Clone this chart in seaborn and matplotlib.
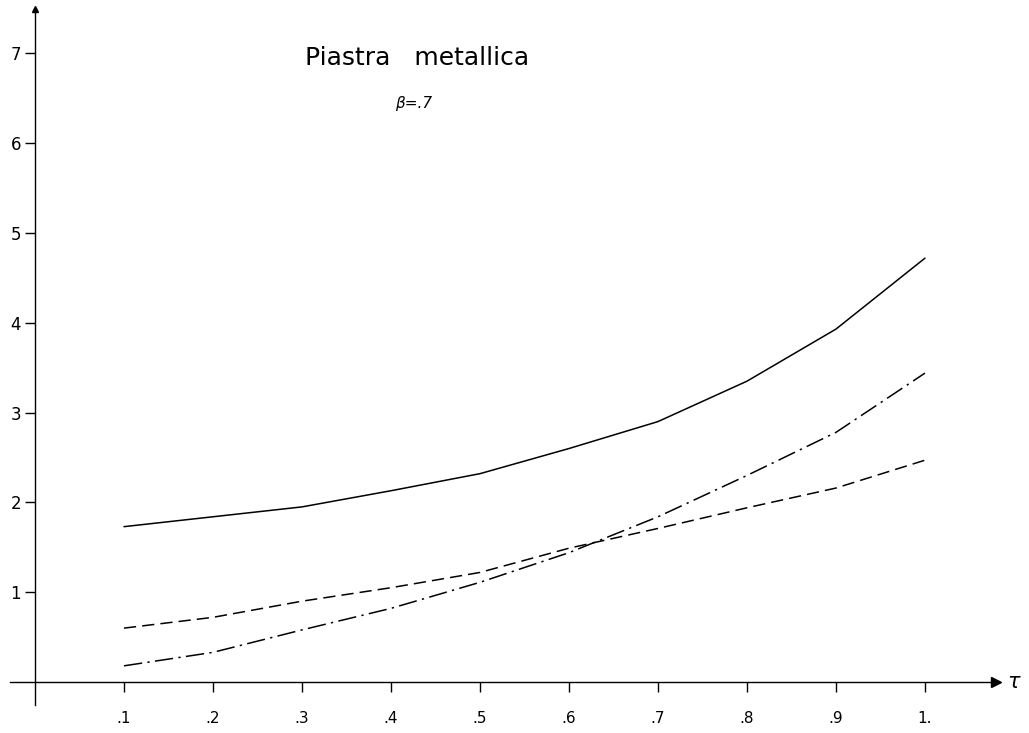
import matplotlib.pyplot as plt
import pandas as pd
import seaborn as sns

# values (beta = .7)
tau = [0.1, 0.2, 0.3, 0.4, 0.5, 0.6, 0.7, 0.8, 0.9, 1.0]
solid = [1.73, 1.84, 1.95, 2.13, 2.32, 2.60, 2.90, 3.35, 3.93, 4.72]
dashed = [0.60, 0.72, 0.90, 1.05, 1.22, 1.49, 1.71, 1.94, 2.16, 2.47]
dashdot = [0.18, 0.33, 0.58, 0.82, 1.11, 1.44, 1.84, 2.30, 2.78, 3.44]

x_ticks = [0.1, 0.2, 0.3, 0.4, 0.5, 0.6, 0.7, 0.8, 0.9, 1.0]
x_labels = [".1", ".2", ".3", ".4", ".5", ".6", ".7", ".8", ".9", "1."]
y_ticks = [1, 2, 3, 4, 5, 6, 7]
y_labels = ["1", "2", "3", "4", "5", "6", "7"]

df = pd.DataFrame({"tau": tau, "solid": solid, "dashed": dashed, "dashdot": dashdot})

sns.set_style("white")
plt.rcParams["font.family"] = ["DejaVu Sans"]
plt.rcParams["text.color"] = "black"

fig = plt.figure(figsize=(10.29, 7.33), dpi=100)
ax = fig.add_axes([0, 0, 1, 1])

sns.lineplot(data=df, x="tau", y="solid", ax=ax, color="black", linewidth=1.1)
sns.lineplot(data=df, x="tau", y="dashed", ax=ax, color="black", linewidth=1.1,
             dashes=False, linestyle=(0, (8, 4)))
sns.lineplot(data=df, x="tau", y="dashdot", ax=ax, color="black", linewidth=1.1,
             dashes=False, linestyle=(0, (12, 3.5, 1.5, 3.5)))

ax.set_xlim(-0.0393, 1.1169)
ax.set_ylim(-0.568, 7.595)

# axes drawn through the origin, like the hand drawing
for s in ["top", "right"]:
    ax.spines[s].set_visible(False)
ax.spines["left"].set_position(("data", 0))
ax.spines["bottom"].set_position(("data", 0))
ax.spines["left"].set_bounds(-0.26, 7.45)
ax.spines["bottom"].set_bounds(-0.028, 1.075)
for s in ["left", "bottom"]:
    ax.spines[s].set_linewidth(1.0)
    ax.spines[s].set_color("black")

ax.plot(1.08, 0, marker=">", color="black", markersize=7, clip_on=False)
ax.plot(0, 7.5, marker="^", color="black", markersize=5, clip_on=False)
ax.text(1.092, 0, "τ", fontsize=15, va="center", ha="left", style="italic")

ax.set_xticks(x_ticks)
ax.set_xticklabels(x_labels, fontsize=11)
ax.set_yticks(y_ticks)
ax.set_yticklabels(y_labels, fontsize=12)
ax.tick_params(axis="x", bottom=True, direction="out", length=7, width=1, pad=14, colors="black")
ax.tick_params(axis="y", left=True, direction="out", length=7, width=1, pad=3, colors="black")
ax.set_xlabel("")
ax.set_ylabel("")

fig.text(0.296, 0.921, "Piastra   metallica", fontsize=18, ha="left", va="center")
fig.text(0.384, 0.859, "β=.7", fontsize=11, ha="left", va="center", style="italic")

fig.savefig("out.png", dpi=100)
